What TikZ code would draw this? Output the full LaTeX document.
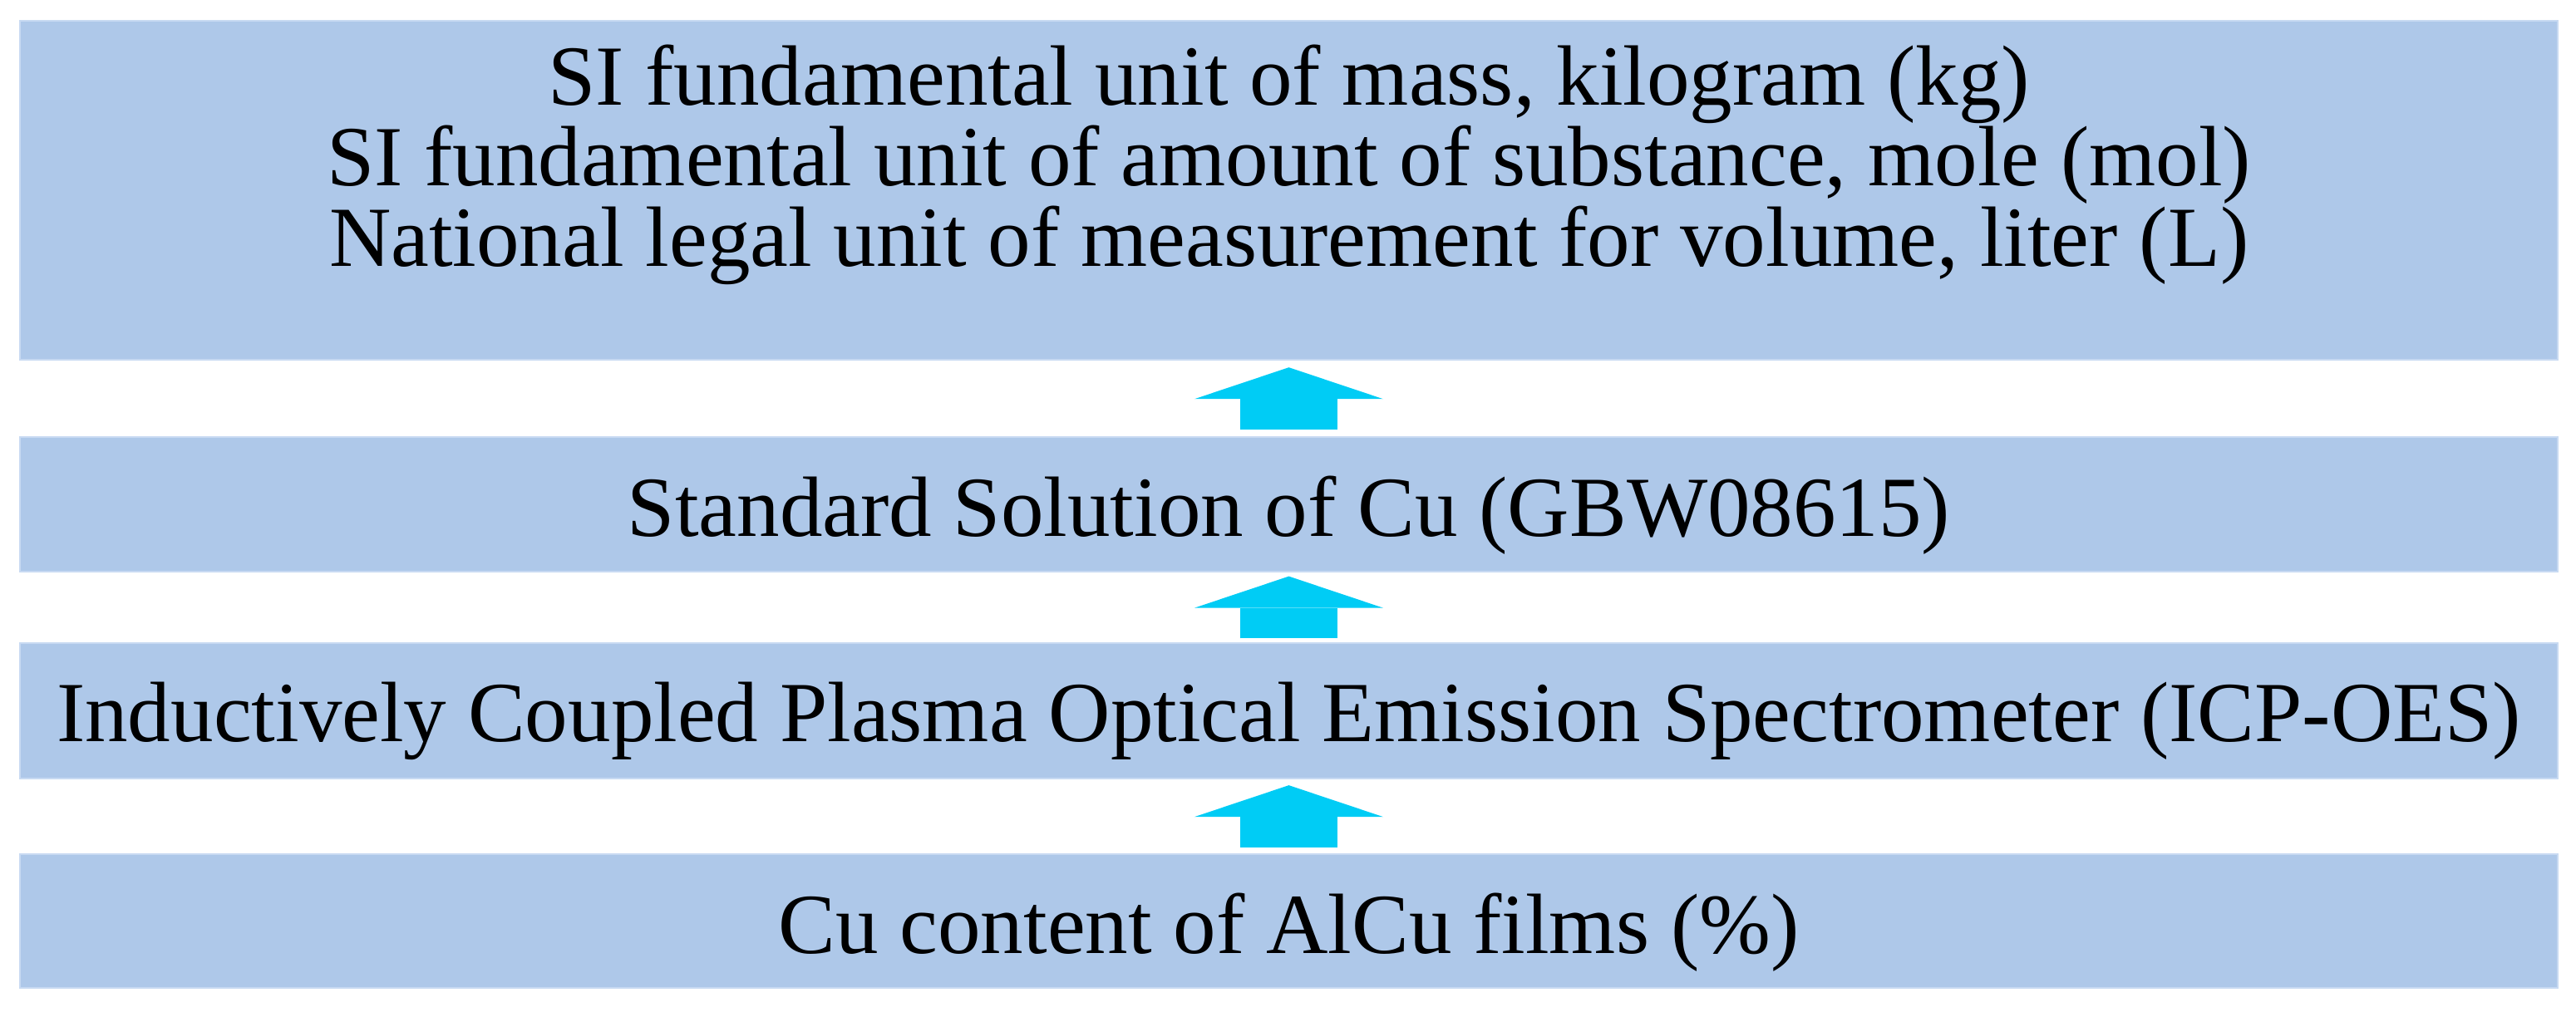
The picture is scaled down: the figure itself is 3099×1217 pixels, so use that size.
\documentclass[tikz,border=0pt]{standalone}
\usepackage{fontspec}
\setmainfont{Liberation Serif}
\usetikzlibrary{arrows.meta}
\definecolor{boxblue}{RGB}{174,200,233}
\definecolor{boxedge}{RGB}{200,218,242}
\definecolor{arrowcyan}{RGB}{0,204,245}
\tikzstyle{level} = [rectangle,fill=boxblue,draw=boxedge,line width=0.6pt,minimum width=30.51cm,inner sep=0pt]
\tikzstyle{leveltext} = [anchor=base,inner sep=0pt,font=\fontsize{29.3}{29.3}\selectfont]
\tikzstyle{up arrow} = [draw=arrowcyan,line width=1.17cm,-{Triangle[width=2.27cm,length=0.38cm,line width=0pt,fill=arrowcyan]}]

\begin{document}
\begin{tikzpicture}[x=0.01cm,y=-0.01cm]
      \useasboundingbox (0,0) rectangle (3099,1217);
      %boxes
      \foreach \name/\y/\h in {b1/229/4.08cm, b2/607/1.62cm, b3/855.5/1.63cm, b4/1108.5/1.61cm}
      {
        \node[level, minimum height=\h] (\name) at (1550.5,\y) {};
      };
      %texts
      \foreach \name/\y/\txt in {
        t1/126/{SI fundamental unit of mass, kilogram (kg)},
        t2/223/{SI fundamental unit of amount of substance, mole (mol)},
        t3/320/{National legal unit of measurement for volume, liter (L)},
        t4/645/{Standard Solution of Cu (GBW08615)},
        t5/892/{Inductively Coupled Plasma Optical Emission Spectrometer (ICP-OES)},
        t6/1147/{Cu content of AlCu films (\%)}}
      {
        \node[leveltext] (\name) at (1550.5,\y) {\txt};
      };
      %arrows
      \foreach \lower/\upper/\gap in {b2/b1/0.08cm, b3/b2/0.045cm, b4/b3/0.07cm}
      {
        \draw[up arrow, shorten <=\gap, shorten >=\gap] (\lower.north) -- (\upper.south);
      };
\end{tikzpicture}
\end{document}
